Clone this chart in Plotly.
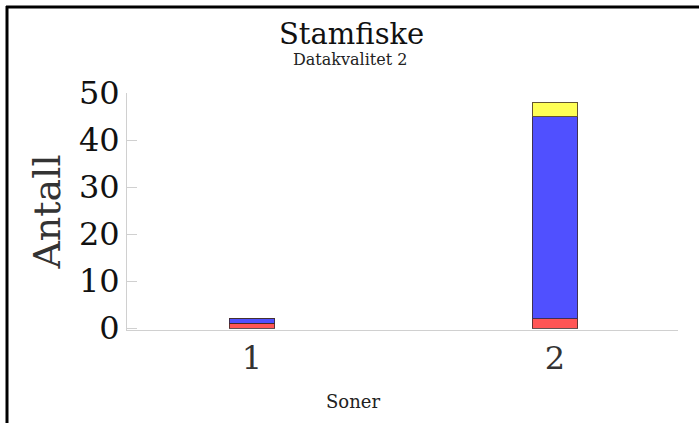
import plotly.graph_objects as go

soner = [1, 2]
rod = [1, 2]
bla = [1, 43]
gul = [0, 3]
y_ticks = [0, 10, 20, 30, 40, 50]

W, H = 699, 423
L, R, T, B = 127, 21, 93, 93
pw, ph = W - L - R, H - T - B

def px(x):
    return (x - L) / pw

def py(y):
    return (H - B - y) / ph

fig = go.Figure()
line = dict(color="rgba(60,40,40,0.8)", width=1)
fig.add_bar(x=soner, y=rod, name="Rød", marker=dict(color="#ff5555", line=line), width=0.15)
fig.add_bar(x=soner, y=bla, name="Blå", marker=dict(color="#5050ff", line=line), width=0.15)
fig.add_bar(x=soner, y=gul, name="Gul", marker=dict(color="#ffff55", line=line), width=0.15)

serif = "DejaVu Serif"
fig.update_layout(
    barmode="stack",
    width=W, height=H,
    margin=dict(l=L, r=R, t=T, b=B, autoexpand=False),
    paper_bgcolor="white", plot_bgcolor="white",
    showlegend=False,
    font=dict(family=serif, color="#222"),
    xaxis=dict(range=[0.5875, 2.406], tickvals=soner, ticktext=[str(s) for s in soner],
               showgrid=False, zeroline=False, showline=True, linecolor="#d0d0d0", linewidth=1,
               ticks="",
               tickfont=dict(size=32, family=serif, color="#333")),
    yaxis=dict(range=[-0.4, 50], tickvals=y_ticks, showgrid=False, zeroline=False,
               showline=True, linecolor="#d0d0d0", linewidth=1,
               ticks="inside", ticklen=10, tickcolor="#d0d0d0",
               tickfont=dict(size=32, family=serif, color="#111"),
               title=dict(text="Antall", font=dict(size=38, family=serif, color="#333"), standoff=6)),
    annotations=[
        dict(text="Stamfiske", xref="paper", yref="paper", x=px(351), y=py(34), showarrow=False,
             font=dict(size=29, family=serif, color="#111"), xanchor="center", yanchor="middle"),
        dict(text="Datakvalitet 2", xref="paper", yref="paper", x=px(350), y=py(60), showarrow=False,
             font=dict(size=16, family=serif, color="#222"), xanchor="center", yanchor="middle"),
        dict(text="Soner", xref="paper", yref="paper", x=px(353), y=py(401), showarrow=False,
             font=dict(size=18, family=serif, color="#222"), xanchor="center", yanchor="middle"),
    ],
    shapes=[
        dict(type="line", xref="paper", yref="paper", x0=px(6), x1=px(700), y0=py(7), y1=py(7),
             line=dict(color="black", width=3)),
        dict(type="line", xref="paper", yref="paper", x0=px(7), x1=px(7), y0=py(6), y1=py(424),
             line=dict(color="black", width=3)),
    ],
)

fig.write_html("out.html", post_script="document.body.style.margin='0';",
               config={"displayModeBar": False})
